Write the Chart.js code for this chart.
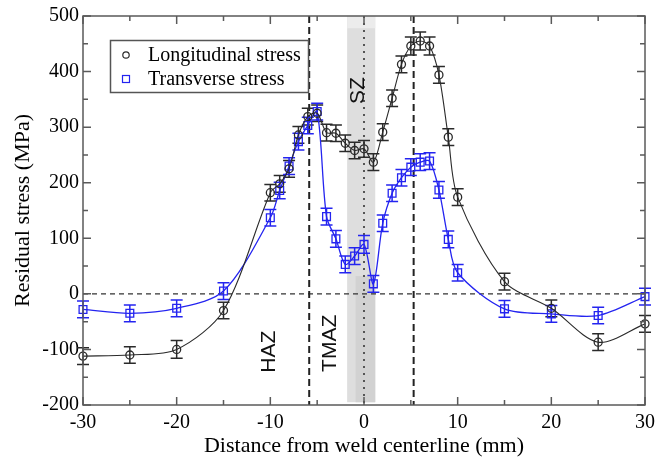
<!DOCTYPE html>
<html>
<head>
<meta charset="utf-8">
<script src="https://cdn.jsdelivr.net/npm/chart.js@4/dist/chart.umd.min.js"></script>
<style>
html,body{margin:0;padding:0;background:#fff;}
#c{display:block;}
</style>
</head>
<body>
<canvas id="c" width="666" height="464"></canvas>
<script>
// ---- data ----
const positions = [-30,-25,-20,-15,-10,-9,-8,-7,-6,-5,-4,-3,-2,-1,0,1,2,3,4,5,6,7,8,9,10,15,20,25,30];
const longitudinal = [-112,-110,-100,-30,182,198,225,286,319,325,290,289,271,258,261,237,291,352,413,446,455,446,394,282,174,22,-26,-87,-54];
const longitudinalErr = [15,15,16,15,15,15,15,15,15,15,15,15,15,15,15,15,15,15,15,16,16,16,15,15,15,15,15,15,15];
const transverse = [-28,-35,-26,5,137,186,230,274,303,328,139,99,53,68,89,18,127,181,209,228,237,239,187,98,38,-27,-36,-39,-5];
const transverseErr = [15,15,15,15,15,15,15,15,15,15,15,15,15,15,16,15,15,15,15,15,15,15,15,15,15,15,15,15,15];
const seriesNames = ['Longitudinal stress','Transverse stress'];
const xTicks = [-30,-20,-10,0,10,20,30];
const yTicks = [-200,-100,0,100,200,300,400,500];
const zoneBoundaries = [-5.85, 5.3];     // dashed vertical lines
const szBand = [-1.8, 1.2];              // shaded stir zone
const zoneLabels = [
  {text:'SZ',   x:-0.6,  y:366},
  {text:'HAZ',  x:-10.1, y:-104},
  {text:'TMAZ', x:-3.6,  y:-89}
];

const BLACK = '#2a2a2a';
const BLUE = '#2424f0';
const SERIF = '"Liberation Serif", "Times New Roman", serif';
const SANS = '"Liberation Sans", Arial, sans-serif';

const toPts = (ys) => ys.map((v,i) => ({x: positions[i], y: v}));

const overlay = {
  id: 'overlay',
  beforeDatasetsDraw(chart) {
    const {ctx, chartArea: a, scales: {x, y}} = chart;
    ctx.save();
    // stir-zone band
    const bx1 = x.getPixelForValue(szBand[0]), bx2 = x.getPixelForValue(szBand[1]);
    const byb = y.getPixelForValue(-195);
    ctx.fillStyle = '#dedede';
    ctx.fillRect(bx1, a.top, bx2 - bx1, byb - a.top);
    ctx.fillStyle = '#ececec';
    ctx.fillRect(bx1, a.top, bx2 - bx1, y.getPixelForValue(478) - a.top);
    ctx.fillStyle = '#d2d2d2';
    const bxm = x.getPixelForValue(-0.9), bym = y.getPixelForValue(32);
    ctx.fillRect(bxm, bym, bx2 - bxm, byb - bym);

    // zero line
    ctx.strokeStyle = '#333';
    ctx.lineWidth = 1.3;
    ctx.setLineDash([5,4]);
    const y0 = y.getPixelForValue(0);
    ctx.beginPath(); ctx.moveTo(a.left, y0); ctx.lineTo(a.right, y0); ctx.stroke();
    // zone boundaries
    ctx.lineWidth = 2;
    ctx.setLineDash([7,4]);
    ctx.strokeStyle = '#222';
    zoneBoundaries.forEach(v => {
      const px = x.getPixelForValue(v);
      ctx.beginPath(); ctx.moveTo(px, a.top); ctx.lineTo(px, a.bottom); ctx.stroke();
    });
    // centre dotted line
    ctx.lineWidth = 2;
    ctx.setLineDash([2,5]);
    ctx.strokeStyle = '#555';
    const pc = x.getPixelForValue(0);
    ctx.beginPath(); ctx.moveTo(pc, a.top); ctx.lineTo(pc, a.bottom); ctx.stroke();
    ctx.setLineDash([]);

    // zone labels
    ctx.fillStyle = '#111';
    ctx.font = '21px ' + SANS;
    ctx.textAlign = 'center';
    ctx.textBaseline = 'middle';
    zoneLabels.forEach(l => {
      ctx.save();
      ctx.translate(x.getPixelForValue(l.x), y.getPixelForValue(l.y));
      ctx.rotate(-Math.PI/2);
      ctx.fillText(l.text, 0, 0);
      ctx.restore();
    });

    // error bars
    const sets = [[longitudinal, longitudinalErr, BLACK],[transverse, transverseErr, BLUE]];
    sets.forEach(([vals, errs, col]) => {
      ctx.strokeStyle = col;
      ctx.lineWidth = 1.5;
      vals.forEach((v,i) => {
        const px = x.getPixelForValue(positions[i]);
        const yt = y.getPixelForValue(v + errs[i]);
        const yb = y.getPixelForValue(v - errs[i]);
        ctx.beginPath();
        ctx.moveTo(px, yt); ctx.lineTo(px, yb);
        ctx.moveTo(px-6, yt); ctx.lineTo(px+6, yt);
        ctx.moveTo(px-6, yb); ctx.lineTo(px+6, yb);
        ctx.stroke();
      });
    });
    ctx.restore();
  },
  afterDatasetsDraw(chart) {
    const {ctx, chartArea: a, scales: {x, y}} = chart;
    ctx.save();
    // frame
    ctx.strokeStyle = '#5a5a5a';
    ctx.lineWidth = 1.5;
    ctx.strokeRect(a.left, a.top, a.right - a.left, a.bottom - a.top);
    // inward ticks
    ctx.beginPath();
    for (let v = -30; v <= 30; v += 5) {
      const px = x.getPixelForValue(v);
      const len = (v % 10 === 0) ? 8 : 5;
      ctx.moveTo(px, a.bottom); ctx.lineTo(px, a.bottom - len);
      ctx.moveTo(px, a.top); ctx.lineTo(px, a.top + len);
    }
    for (let v = -200; v <= 500; v += 50) {
      const py = y.getPixelForValue(v);
      const len = (v % 100 === 0) ? 8 : 5;
      ctx.moveTo(a.left, py); ctx.lineTo(a.left + len, py);
      ctx.moveTo(a.right, py); ctx.lineTo(a.right - len, py);
    }
    ctx.stroke();

    // legend
    ctx.strokeStyle = '#555';
    ctx.lineWidth = 1.5;
    ctx.strokeRect(110.5, 40.5, 198, 52);
    ctx.font = '20px ' + SERIF;
    ctx.textAlign = 'left';
    ctx.textBaseline = 'middle';
    ctx.fillStyle = '#000';
    ctx.fillText(chart.data.datasets[0].label, 148, 56);
    ctx.fillText(chart.data.datasets[1].label, 148, 80);
    ctx.lineWidth = 1.2;
    ctx.strokeStyle = BLACK;
    ctx.beginPath(); ctx.arc(126, 55, 3.2, 0, Math.PI*2); ctx.stroke();
    ctx.strokeStyle = BLUE;
    ctx.strokeRect(122.5, 75.5, 7, 7);
    ctx.restore();
  }
};

new Chart(document.getElementById('c'), {
  type: 'scatter',
  data: {
    datasets: [
      {
        label: seriesNames[0],
        data: toPts(longitudinal),
        showLine: true,
        borderColor: BLACK,
        borderWidth: 1.1,
        tension: 0.3,
        pointStyle: 'circle',
        pointRadius: 4,
        pointBorderWidth: 1.3,
        pointBorderColor: BLACK,
        pointBackgroundColor: 'rgba(0,0,0,0)',
        clip: false
      },
      {
        label: seriesNames[1],
        data: toPts(transverse),
        showLine: true,
        borderColor: BLUE,
        borderWidth: 1.3,
        tension: 0.3,
        pointStyle: 'rect',
        pointRadius: 5.5,
        pointBorderWidth: 1.3,
        pointBorderColor: BLUE,
        pointBackgroundColor: 'rgba(0,0,0,0)',
        clip: false
      }
    ]
  },
  options: {
    responsive: false,
    animation: false,
    events: [],
    layout: {padding: {left: 0, right: 21, top: 13, bottom: 0}},
    plugins: {legend: {display: false}, tooltip: {enabled: false}},
    scales: {
      x: {
        type: 'linear', min: -30, max: 30,
        afterBuildTicks: (s) => { s.ticks = xTicks.map(v => ({value: v})); },
        ticks: {font: {family: SERIF, size: 20}, color: '#000', padding: 6, maxRotation: 0, autoSkip: false},
        grid: {display: false, drawTicks: false},
        border: {display: false},
        title: {display: true, text: 'Distance from weld centerline (mm)', font: {family: SERIF, size: 22}, color: '#000', padding: {top: 0, bottom: 5}},
        afterFit: (s) => { s.height = 59; }
      },
      y: {
        type: 'linear', min: -200, max: 500,
        afterBuildTicks: (s) => { s.ticks = yTicks.map(v => ({value: v})); },
        ticks: {font: {family: SERIF, size: 20}, color: '#000', padding: 4, autoSkip: false},
        grid: {display: false, drawTicks: false},
        border: {display: false},
        title: {display: true, text: 'Residual stress (MPa)', font: {family: SERIF, size: 22}, color: '#000', padding: {top: 10, bottom: 0}},
        afterFit: (s) => { s.width = 83; }
      }
    }
  },
  plugins: [overlay]
});
</script>
</body>
</html>
